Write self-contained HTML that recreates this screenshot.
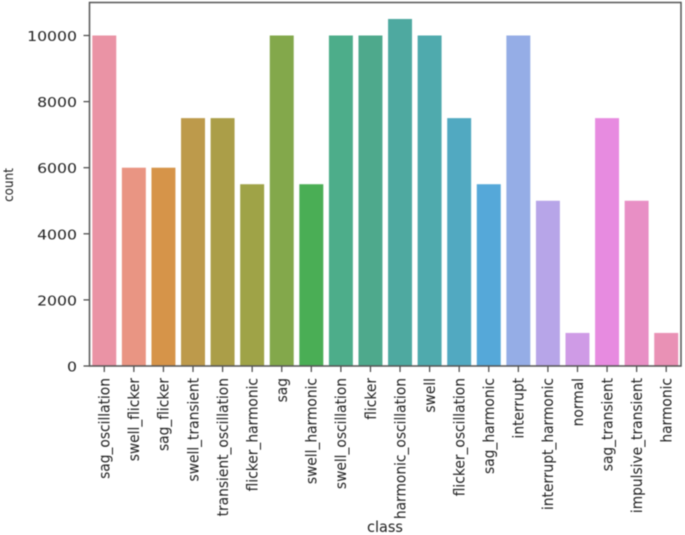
<!DOCTYPE html>
<html>
<head>
<meta charset="utf-8">
<title>Class count bar chart</title>
<style>
html,body{margin:0;padding:0;background:#fff;}
body{width:685px;height:535px;overflow:hidden;}
svg{display:block;}
text{font-family:"DejaVu Sans","Liberation Sans",sans-serif;fill:#222;}
</style>
</head>
<body>
<svg id="chart" width="685" height="535" viewBox="0 0 685 535" xmlns="http://www.w3.org/2000/svg">
<g id="root" style="filter:blur(0.6px)"></g>
</svg>
<script>
const categories = ["sag_oscillation","swell_flicker","sag_flicker","swell_transient","transient_oscillation","flicker_harmonic","sag","swell_harmonic","swell_oscillation","flicker","harmonic_oscillation","swell","flicker_oscillation","sag_harmonic","interrupt","interrupt_harmonic","normal","sag_transient","impulsive_transient","harmonic"];
const counts = [10000,6000,6000,7500,7500,5500,10000,5500,10000,10000,10500,10000,7500,5500,10000,5000,1000,7500,5000,1000];
const barColors = ["#ea93a5","#e99583","#d69449","#bd9a4b","#ab9e48","#9fa347","#83a84b","#4aae55","#4dad8a","#4ea98c","#4ea9a0","#4faaad","#51a9c1","#55a8d9","#95ade6","#b7a5e8","#cf9be6","#e78be0","#e88fc5","#e991b5"];
const yTicks = [0,2000,4000,6000,8000,10000];

const NS = "http://www.w3.org/2000/svg";
const root = document.getElementById("root");
const plotLeft = 89.5, plotRight = 681, plotTop = 2.5, plotBottom = 366;
const y0 = 366, yPerUnit = (366 - 35.5) / 10000;
const bandStep = (plotRight - plotLeft) / categories.length;
const bandFill = 0.81;
const xCenter = i => plotLeft + bandStep * (i + 0.5);
const yScale = v => y0 - v * yPerUnit;

function make(tag, attrs, text) {
  const el = document.createElementNS(NS, tag);
  for (const k in attrs) el.setAttribute(k, attrs[k]);
  if (text !== undefined) el.textContent = text;
  root.appendChild(el);
  return el;
}

categories.forEach((c, i) => {
  const w = bandStep * bandFill;
  const bar = make("rect", {x: xCenter(i) - w / 2, y: yScale(counts[i]), width: w, height: y0 - yScale(counts[i]), fill: barColors[i]});
  
  

  const tick = make("line", {x1: xCenter(i), x2: xCenter(i), y1: plotBottom, y2: plotBottom + 6, stroke: "#444", "stroke-width": 1.2});
  
  

  const label = make("text", {
    transform: "translate(" + (xCenter(i) + 5.3) + "," + (plotBottom + 12) + ") rotate(-90) scale(1.38,1.5)",
    "text-anchor": "end", "font-size": 10
  }, c);
  
  
});

yTicks.forEach(t => {
  const tick = make("line", {x1: plotLeft - 6, x2: plotLeft, y1: yScale(t), y2: yScale(t), stroke: "#444", "stroke-width": 1.2});
  
  

  const label = make("text", {
    transform: "translate(77," + (yScale(t) + 5.5) + ") scale(1.57,1.35)",
    "text-anchor": "end", "font-size": 10
  }, String(t));
  
  
});

const frame = make("rect", {x: plotLeft, y: plotTop, width: plotRight - plotLeft, height: plotBottom - plotTop, fill: "none", stroke: "#555", "stroke-width": 1.5});



const xTitle = make("text", {transform: "translate(385,532) scale(1.45,1.55)", "text-anchor": "middle", "font-size": 10}, "class");



const yTitle = make("text", {transform: "translate(13,185) rotate(-90) scale(1.2,1.3)", "text-anchor": "middle", "font-size": 10}, "count");


</script>
</body>
</html>
